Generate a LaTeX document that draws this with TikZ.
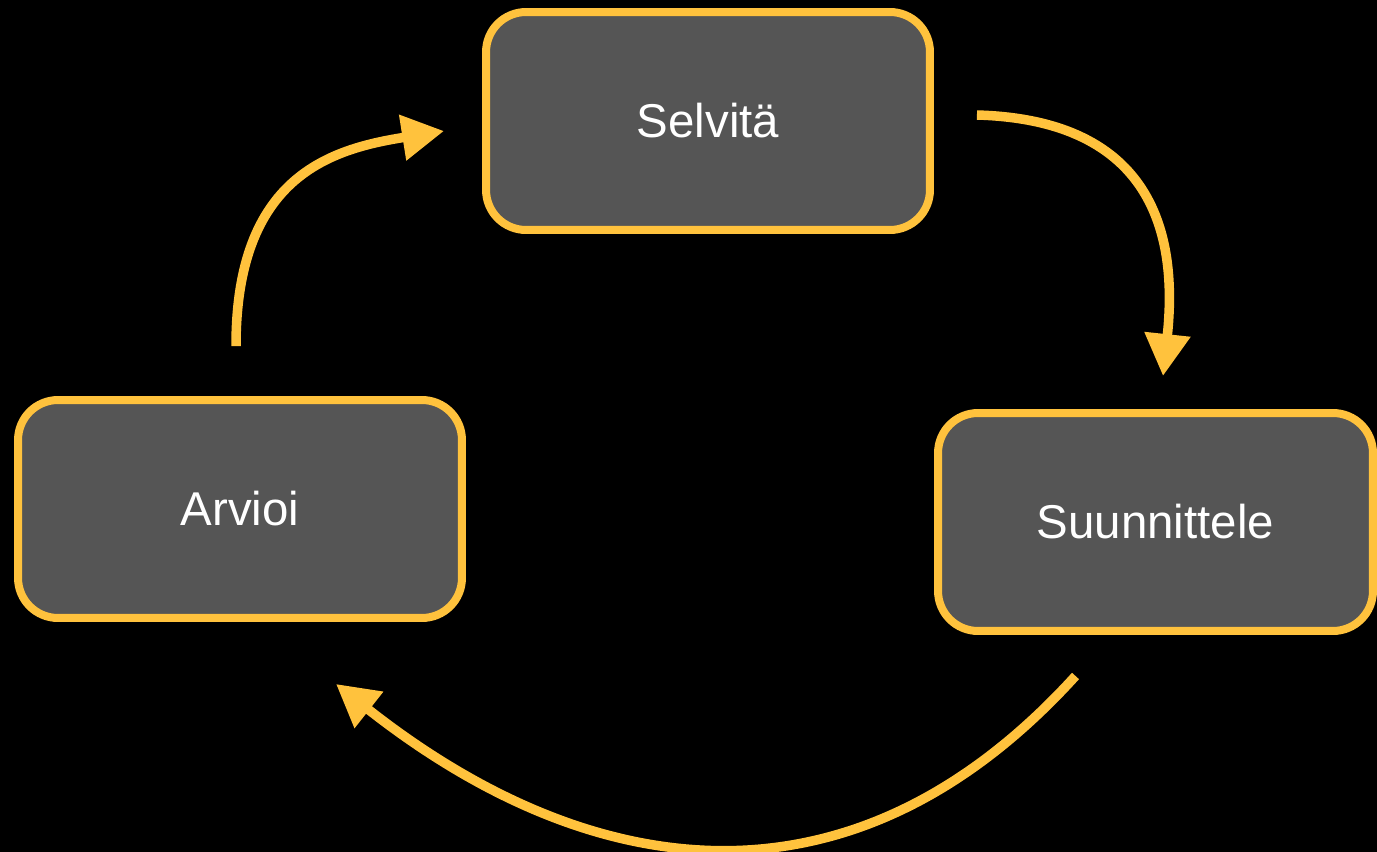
\documentclass[tikz,border=0pt]{standalone}
\usepackage{fontspec}
\setmainfont{Liberation Sans}
\usetikzlibrary{arrows.meta}
\definecolor{keltainen}{HTML}{FFC23D}
\definecolor{harmaa}{HTML}{555555}
\begin{document}
\begin{tikzpicture}[x=0.02cm,y=-0.02cm]

        \fill[black] (0,0) rectangle (1377,852);
        \useasboundingbox (0,0) rectangle (1377,852);

        \begin{scope}[every node/.style={draw=keltainen,fill=harmaa,line width=0.16cm,
            rounded corners=0.8cm,minimum height=4.36cm,text=white,
            font=\fontsize{27}{32}\selectfont}]
          \node[minimum width=8.88cm] (1) at (708,121)    {Selvitä};
          \node[minimum width=8.70cm] (2) at (1155.5,522) {Suunnittele};
          \node[minimum width=8.88cm] (3) at (240,509)    {Arvioi};
        \end{scope}

        \path (3.north) ++(-4,-50) coordinate (3a);
        \path (1.west) ++(-38,10)  coordinate (1b);
        \path (1.east) ++(43,-6)   coordinate (1a);
        \path (2.north) ++(7.5,-33) coordinate (2b);
        \path (2.south) ++(-80,41) coordinate (2a);
        \path (3.south) ++(96,62)  coordinate (3b);

        \begin{scope}[every path/.style={draw=keltainen,line width=0.19cm,
            -{Triangle[length=0.84cm,width=0.88cm]}}]
          \path (3a) .. controls +(0,-170) and +(-113,18) .. (1b);
          \path (1a) .. controls +(177,5) and +(15,-140) .. (2b);
          \path (2a) .. controls +(-227,250) and +(250,197) .. (3b);
        \end{scope}

      \end{tikzpicture}
\end{document}
